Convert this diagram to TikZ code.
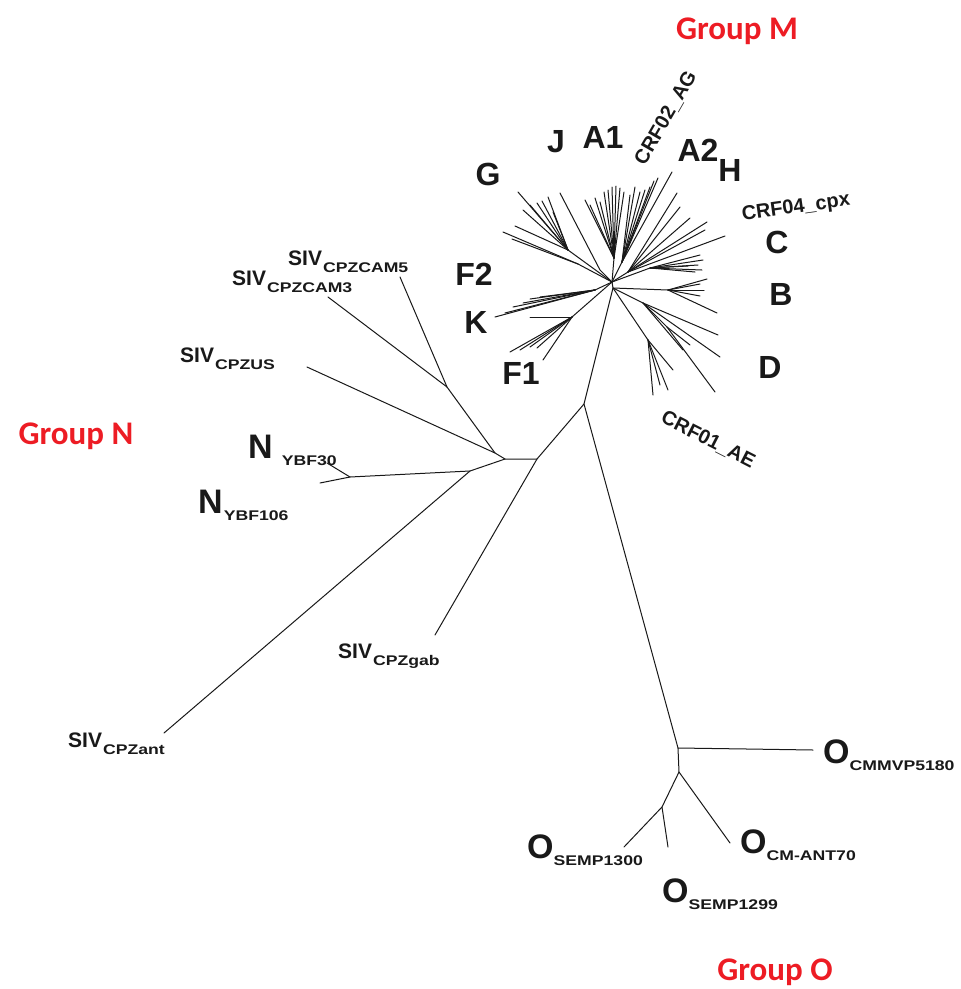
\documentclass[tikz,border=0pt]{standalone}
\usepackage{fontspec}
\setmainfont{Liberation Sans}
\newfontfamily\grpfont{Carlito}
\newfontfamily\subfont[FakeStretch=1.26]{Liberation Sans}
\definecolor{grpred}{RGB}{237,28,36}
\definecolor{ink}{RGB}{25,25,25}
\newcommand{\sublab}[4]{{\fontsize{#1}{#1}\selectfont #2}\hspace*{#4}{\subfont\bfseries\fontsize{14}{14}\selectfont\raisebox{-7pt}{#3}}}
\begin{document}
\begin{tikzpicture}[x=1pt,y=-1pt,
  br/.style={line width=1pt, line cap=round, draw=ink},
  big/.style={inner sep=0pt, text=ink, font=\bfseries\fontsize{32}{32}\selectfont},
  midlab/.style={inner sep=0pt, text=ink, font=\bfseries\fontsize{20}{20}\selectfont},
  sivlab/.style={inner sep=0pt, anchor=base west, text=ink, font=\bfseries},
  grp/.style={inner sep=0pt, anchor=base, text=grpred, font=\grpfont\bfseries\fontsize{33}{33}\selectfont}]
\useasboundingbox (0,0) rectangle (961,989);
\fill[white] (0,0) rectangle (961,989);
% main internal nodes
\coordinate (h1) at (612,282);
\coordinate (h2) at (613,288);
\coordinate (rt) at (584,404);
\coordinate (nb) at (537,459);
\coordinate (nc) at (505,459);
\coordinate (nd) at (495,453);
\coordinate (ne) at (470,471);
\coordinate (cam) at (447,387);
\coordinate (nn) at (350,477);
\coordinate (o1) at (678,748);
\coordinate (okink) at (747,749);
\coordinate (o2) at (679,772);
\coordinate (o3) at (662,807);
% leaves
\coordinate (lgab) at (435,635);
\coordinate (lant) at (164,733);
\coordinate (lus) at (307,367);
\coordinate (lc3) at (328,297);
\coordinate (lc5) at (400,277);
\coordinate (ln30) at (327,463);
\coordinate (ln106) at (320,483);
\coordinate (lo5180) at (813,750);
\coordinate (lant70) at (730,843);
\coordinate (ls1300) at (624,847);
\coordinate (ls1299) at (668,847);
% backbone
\draw[br] (h1) -- (h2) -- (rt) -- (o1);
\draw[br] (rt) -- (nb) -- (nc) -- (nd) -- (lus);
\draw[br] (nd) -- (cam) -- (lc3);
\draw[br] (cam) -- (lc5);
\draw[br] (nb) -- (lgab);
\draw[br] (nc) -- (ne) -- (nn) -- (ln30);
\draw[br] (nn) -- (ln106);
\draw[br] (ne) -- (lant);
\draw[br] (o1) -- (okink) -- (lo5180);
\draw[br] (o1) -- (o2) -- (lant70);
\draw[br] (o2) -- (o3) -- (ls1300);
\draw[br] (o3) -- (ls1299);
% group M clades
\coordinate (gn) at (568,250);
\coordinate (g2n) at (578,264);
\coordinate (jn) at (600,270);
\coordinate (an) at (614,258);
\coordinate (a2n) at (622,262);
\coordinate (cn) at (628,272);
\coordinate (fn) at (650,268);
\coordinate (bn) at (668,290);
\coordinate (dn) at (643,303);
\coordinate (dsub) at (667,327);
\coordinate (aen) at (648,340);
\coordinate (kn) at (595,290);
\coordinate (f1n) at (572,317);
\coordinate (lj) at (560,193);
\draw[br] (gn) -- (h1); \draw[br] (g2n) -- (h1); \draw[br] (lj) -- (jn) -- (h1);
\draw[br] (an) -- (h1); \draw[br] (a2n) -- (h1); \draw[br] (cn) -- (h1);
\draw[br] (fn) -- (h1); \draw[br] (kn) -- (h1); \draw[br] (f1n) -- (h1);
\draw[br] (bn) -- (h2); \draw[br] (dn) -- (h2); \draw[br] (aen) -- (h2);
\draw[br] (dn) -- (dsub);
\foreach \x/\y [count=\i] in {518/192,523/210,515/226,530/205,537/203,542/201,548/197,553/212}
  {\coordinate (lg\i) at (\x,\y); \draw[br] (gn) -- (lg\i);}
\foreach \x/\y [count=\i] in {503/232,512/239}
  {\coordinate (lgg\i) at (\x,\y); \draw[br] (g2n) -- (lgg\i);}
\foreach \x/\y [count=\i] in {585/200,590/205,595/198,600/202,604/192,608/190,612/187,616/186,620/188,624/192}
  {\coordinate (la\i) at (\x,\y); \draw[br] (an) -- (la\i);}
\foreach \x/\y [count=\i] in {630/195,635/187,640/192,645/190,650/187,654/181,658/178,672/172}
  {\coordinate (laa\i) at (\x,\y); \draw[br] (a2n) -- (laa\i);}
\foreach \x/\y [count=\i] in {677/193,680/207,690/218,707/222,705/230,725/236}
  {\coordinate (lcc\i) at (\x,\y); \draw[br] (cn) -- (lcc\i);}
\foreach \x/\y [count=\i] in {700/255,703/260,698/265,702/270,695/272,688/266}
  {\coordinate (lf\i) at (\x,\y); \draw[br] (fn) -- (lf\i);}
\foreach \x/\y [count=\i] in {707/279,700/284,704/290,700/296,717/313}
  {\coordinate (lb\i) at (\x,\y); \draw[br] (bn) -- (lb\i);}
\foreach \x/\y [count=\i] in {718/335,720/357,683/350}
  {\coordinate (ld\i) at (\x,\y); \draw[br] (dn) -- (ld\i);}
\foreach \x/\y [count=\i] in {715/392,690/345}
  {\coordinate (ldd\i) at (\x,\y); \draw[br] (dsub) -- (ldd\i);}
\foreach \x/\y [count=\i] in {653/395,668/390,673/370,660/385}
  {\coordinate (le\i) at (\x,\y); \draw[br] (aen) -- (le\i);}
\foreach \x/\y [count=\i] in {495/317,505/313,513/307,523/303,530/299,540/297}
  {\coordinate (lk\i) at (\x,\y); \draw[br] (kn) -- (lk\i);}
\foreach \x/\y [count=\i] in {510/352,520/350,530/347,537/348,543/360,530/317}
  {\coordinate (lff\i) at (\x,\y); \draw[br] (f1n) -- (lff\i);}
% subtype letters
\node[big] (tG) at (488,174) {G};
\node[big] (tJ) at (556,142) {J};
\node[big] (tA1) at (603,137) {A1};
\node[big] (tA2) at (698,150) {A2};
\node[big] (tH) at (730,170) {H};
\node[big] (tC) at (777,242) {C};
\node[big] (tB) at (781,294) {B};
\node[big] (tD) at (770,367) {D};
\node[big] (tF2) at (474,274) {F2};
\node[big] (tK) at (476,322) {K};
\node[big] (tF1) at (521,373) {F1};
\node[midlab, rotate=60] (crf02) at (666,118) {CRF02\_AG};
\node[midlab, rotate=8] (crf04) at (796,208) {CRF04\_cpx};
\node[midlab, rotate=-27] (crf01) at (708,440) {CRF01\_AE};
% SIV and N, O labels
\node[sivlab] (siv5) at (288,265) {\sublab{21}{SIV}{CPZCAM5}{1pt}};
\node[sivlab] (siv3) at (232,285) {\sublab{21}{SIV}{CPZCAM3}{1pt}};
\node[sivlab] (sivus) at (180,362) {\sublab{21}{SIV}{CPZUS}{1pt}};
\node[sivlab] (sivgab) at (338,658) {\sublab{21}{SIV}{CPZgab}{1pt}};
\node[sivlab] (sivant) at (68,747) {\sublab{21}{SIV}{CPZant}{1pt}};
\node[sivlab] (n30) at (248,458) {\sublab{34}{N}{YBF30}{9pt}};
\node[sivlab] (n106) at (198,513) {\sublab{34}{N}{YBF106}{1pt}};
\node[sivlab] (o5180) at (823,763) {\sublab{34}{O}{CMMVP5180}{0pt}};
\node[sivlab] (oant) at (740,853) {\sublab{34}{O}{CM-ANT70}{0pt}};
\node[sivlab] (o1300) at (527,858) {\sublab{34}{O}{SEMP1300}{0pt}};
\node[sivlab] (o1299) at (662,902) {\sublab{34}{O}{SEMP1299}{0pt}};
% group labels
\node[grp] (gM) at (737,39) {Group M};
\node[grp] (gN) at (76,444) {Group N};
\node[grp] (gO) at (775,980) {Group O};
\end{tikzpicture}
\end{document}
